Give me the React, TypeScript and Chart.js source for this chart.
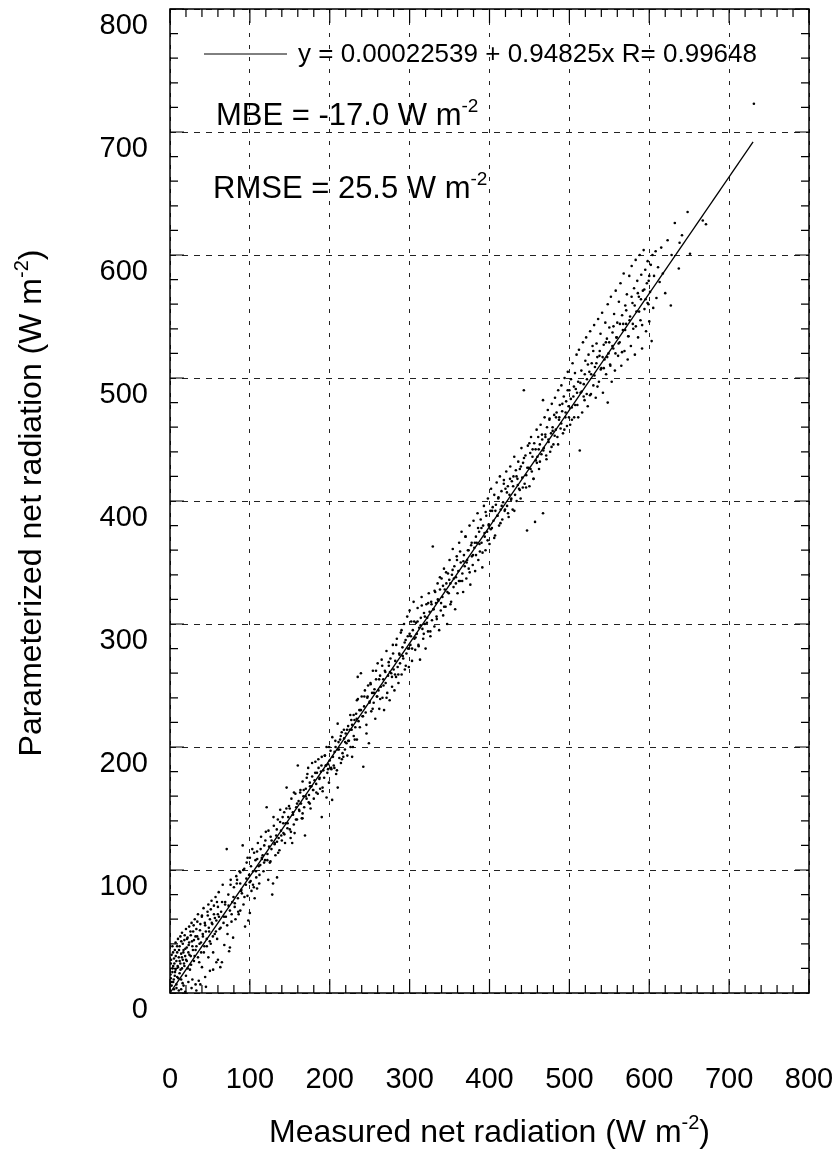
import React, { useEffect, useRef } from "react";
import { Chart, registerables } from "chart.js";

Chart.register(...registerables);

const FONT = "'Liberation Sans', Arial, Helvetica, sans-serif";

const axisMin = 0;
const axisMax = 800;
const majorStep = 100;
const minorStep = 20;

type Part = { t: string; sup?: boolean };
const xTitleParts: Part[] = [{ t: "Measured net radiation (W m" }, { t: "-2", sup: true }, { t: ")" }];
const yTitleParts: Part[] = [{ t: "Parameterized net radiation (W m" }, { t: "-2", sup: true }, { t: ")" }];
const fitLabel = "y = 0.00022539 + 0.94825x R= 0.99648";
const mbeParts: Part[] = [{ t: "MBE = -17.0 W m" }, { t: "-2", sup: true }];
const rmseParts: Part[] = [{ t: "RMSE = 25.5 W m" }, { t: "-2", sup: true }];

// fitted regression line end points (measured, parameterized)
const fitMeasured = [0, 730];
const fitParameterized = [0.0002, 692];

// scatter samples: [measured, parameterized] (W m-2) — outer band
const samples: [number, number][] = [
  [0,2],[1,12],[1,24],[2,6],[2,31],[3,17],[3,38],[4,9],[4,22],[5,3],[5,28],[6,14],[6,35],[7,19],[7,41],[8,7],[8,26],[9,33],[9,13],[10,21],
  [10,44],[11,2],[11,29],[12,16],[12,38],[13,24],[13,46],[14,11],[14,32],[15,49],[15,20],[16,27],[16,40],[17,6],[17,35],[18,43],[18,22],[19,30],[20,52],[20,14],
  [21,37],[21,26],[22,45],[23,9],[23,33],[24,54],[24,41],[25,19],[26,47],[26,30],[27,57],[28,38],[28,11],[29,50],[30,26],[30,43],[31,60],[32,7],[32,35],[33,52],
  [34,46],[35,29],[35,64],[36,10],[37,40],[38,56],[38,7],[39,33],[40,63],[40,21],[41,48],[42,69],[43,38],[44,13],[44,55],[45,5],[46,44],[47,66],[48,29],[48,72],
  [49,50],[50,18],[50,60],[51,40],[52,75],[53,56],[54,19],[54,33],[55,64],[56,48],[57,78],[58,25],[58,59],[59,44],[60,27],[60,70],[14,3],[19,1],[27,4],[33,2],
  [61,82],[62,52],[63,21],[64,66],[65,25],[66,88],[67,57],[68,39],[69,72],[70,62],[71,117],[72,48],[73,80],[74,34],[75,67],[75,37],[76,92],[77,58],[78,74],[79,45],
  [80,86],[81,70],[82,60],[83,95],[84,92],[85,77],[86,64],[87,99],[88,67],[88,98],[89,83],[90,81],[91,120],[92,72],[93,101],[94,54],[95,88],[96,106],[97,79],[98,59],
  [99,96],[100,65],[100,110],[101,91],[102,83],[103,117],[104,99],[105,86],[106,77],[107,108],[108,94],[109,85],[109,115],[110,122],[111,103],[112,96],[113,104],[114,127],[115,110],[116,112],
  [117,99],[118,120],[119,108],[120,131],[121,151],[122,113],[123,92],[124,119],[125,106],[126,127],[127,117],[128,80],[129,89],[130,136],[131,121],[132,112],[133,128],[134,94],[134,123],[135,141],
  [136,126],[137,116],[138,149],[139,132],[140,124],
  [141,143],[142,130],[143,147],[144,122],[145,138],[146,167],[147,134],[148,143],[149,152],[150,133],[151,126],[152,158],[153,122],[154,145],[155,137],[156,130],[157,162],[158,151],[159,141],[160,185],
  [161,156],[162,148],[163,163],[164,154],[165,142],[166,172],[166,146],[167,160],[168,151],[169,128],[170,166],[171,158],[172,178],[173,183],[174,161],[175,171],[175,154],[176,150],[177,168],[178,176],
  [179,165],[180,158],[181,173],[182,188],[183,170],[184,179],[185,162],[186,183],[187,174],[188,166],[189,180],[190,192],[190,143],[191,167],[192,181],[193,175],[194,193],[195,185],[196,200],[196,159],
  [197,179],[198,186],[199,171],[200,189],[201,197],[202,182],[203,157],[204,192],[205,185],[206,196],[207,205],[208,178],[209,181],[210,167],[210,198],[211,204],[212,191],[213,206],[214,187],[215,212],
  [216,195],[217,192],[218,207],[219,198],[220,211],[221,203],[222,193],[223,217],[224,205],[225,214],[226,200],[227,222],[228,218],[228,192],[229,200],[230,209],[231,222],[232,216],[233,227],[234,238],
  [234,206],[235,257],[236,221],[237,230],[238,230],[239,260],[240,241],[241,225],[242,184],[243,233],[244,246],[245,228],[246,211],[247,240],[248,250],[249,203],[250,237],
  [251,252],[252,229],[253,244],[254,262],[255,236],[256,247],[257,223],[258,255],[259,241],[260,268],[261,246],[262,231],[263,258],[264,249],[265,271],[266,240],[267,255],[268,230],[269,262],[270,252],
  [271,278],[272,244],[273,258],[274,266],[275,238],[276,272],[277,260],[278,249],[279,283],[280,263],[281,246],[282,270],[283,257],[284,288],[285,265],[286,252],[287,276],[288,268],[289,293],[290,259],
  [291,281],[292,272],[293,300],[294,263],[295,287],[296,276],[297,306],[298,280],[299,265],[300,292],[300,311],[301,283],[302,302],[303,270],[304,295],[305,318],[306,288],[307,279],[308,301],[309,292],
  [310,313],[311,283],[312,297],[313,271],[314,305],[315,322],[316,296],[317,288],[318,309],[319,300],[320,280],[321,316],[322,305],[323,294],[324,325],[325,310],[326,290],[327,318],[328,303],[329,363],
  [330,312],[331,298],[332,326],[333,317],[334,304],[335,333],[336,319],[337,295],[338,328],[339,311],[340,337],[341,322],[342,307],[343,345],[344,328],[345,314],[346,333],[347,300],[348,341],[349,325],
  [350,352],[351,333],[352,318],[353,340],[354,361],[355,330],[356,347],[357,312],[358,338],[359,355],[360,325],[361,343],[362,366],[363,335],[364,350],[365,375],[366,341],[367,326],[368,356],[369,347],
  [370,371],[371,337],[372,352],[373,360],[374,345],[375,380],[376,332],[377,364],[378,355],[379,348],[380,384],[381,362],[382,343],[383,371],[384,366],[385,390],[386,352],[387,375],[388,359],[389,385],
  [390,366],[391,346],[392,380],[393,396],[394,371],[395,360],[396,388],[397,375],[398,402],[399,380],[400,365],
  [401,392],[402,410],[403,378],[404,395],[405,384],[406,405],[407,372],[408,397],[409,415],[410,388],[411,402],[412,380],[413,420],[414,393],[415,408],[416,385],[417,399],[418,417],[419,392],[420,410],
  [421,424],[422,396],[423,412],[424,387],[425,405],[426,428],[427,401],[428,416],[429,393],[430,420],[431,436],[432,405],[433,425],[434,400],[435,418],[436,432],[437,410],[438,426],[439,402],[440,443],
  [441,419],[442,431],[443,490],[444,414],[445,437],[446,421],[447,376],[448,445],[449,427],[450,412],[451,439],[452,452],[453,424],[454,442],[455,418],[456,447],[457,383],[458,433],[459,458],[460,436],
  [461,452],[462,426],[463,446],[464,462],[465,438],[466,450],[467,482],[467,390],[468,443],[469,468],[470,452],[471,437],[472,460],[473,474],[474,448],[475,466],[476,440],[477,455],[478,479],[479,460],
  [480,446],[481,470],[482,484],[483,458],[484,472],[485,452],[486,490],[487,466],[488,478],[489,459],[490,494],[491,473],[492,455],[493,485],[494,500],[495,468],[496,481],[497,461],[498,505],[499,477],
  [500,490],
  [501,462],[502,499],[503,476],[504,512],[505,485],[506,468],[507,504],[508,491],[509,519],[510,478],[511,497],[512,523],[513,441],[514,488],[515,506],[516,472],[517,529],[518,495],[519,482],[520,514],
  [521,533],[522,499],[523,477],[524,519],[525,505],[526,538],[527,487],[528,512],[529,526],[530,494],[531,543],[532,509],[533,484],[534,528],[535,517],[536,548],[537,497],[538,522],[539,536],[540,508],
  [541,553],[542,488],[543,527],[544,515],[545,545],[546,503],[547,532],[548,480],[548,560],[549,520],[550,541],[551,511],[552,566],[553,497],[554,537],[555,524],[556,552],[557,506],[558,571],[559,533],
  [560,545],[561,518],[562,562],[563,529],[564,577],[565,510],[566,551],[567,539],[568,585],[569,522],[570,559],[571,544],[572,568],[573,515],[574,534],[575,583],[576,550],[577,526],[578,591],[579,561],
  [580,540],[581,573],[582,519],[583,596],[584,554],[585,579],[586,533],[587,566],[588,600],[589,547],[590,584],[591,524],[592,571],[593,604],[594,556],[595,588],[596,538],[597,577],[598,595],[599,560],
  [600,583],[600,546],
  [601,570],[602,592],[603,530],[604,600],[605,557],[606,583],[608,603],[609,565],[611,590],[613,578],[615,606],[617,585],[620,569],[623,612],[627,559],[628,600],[632,626],[637,589],[638,610],[641,616],
  [648,635],[651,601],[667,628],[671,625],[731,723]
];

// dense core of the cloud, close to the fitted line
const coreSamples: [number, number][] = [
  [0.6,15],[1.4,27],[2.2,9],[3.1,20],[3.8,33],[4.7,11],[5.5,24],[6.3,17],[7.2,30],[8.1,4],[8.9,38],[9.6,22],[10.4,12],[11.3,35],[12.1,26],[13.2,19],[14.1,42],[14.9,29],[15.8,8],[16.7,33],
  [17.5,24],[18.4,47],[19.2,36],[20.1,27],[21.3,44],[22.2,20],[23.4,39],[24.3,31],[25.6,50],[26.4,23],[27.5,42],[28.7,35],[29.6,55],[30.8,30],[31.9,46],[33.1,38],[34.2,58],[35.4,44],[36.6,25],[37.5,51],
  [38.8,41],[39.9,62],[41.2,46],[42.4,33],[43.6,57],[44.9,50],[46.1,38],[47.3,63],[48.6,53],[49.8,42],[51.1,68],[52.3,57],[53.7,46],[55.0,71],[56.2,61],[57.5,50],[58.8,74],[59.9,64],
  [61.3,62],[63.4,53],[65.2,74],[67.7,62],[69.1,74],[71.6,55],[73.3,71],[75.8,88],[77.2,64],[79.5,78],[81.1,73],[83.6,89],[85.4,66],[87.9,89],[89.3,84],[91.7,100],[93.2,78],[95.6,93],[97.1,110],[99.8,90],
  [101.4,103],[103.9,88],[105.3,114],[107.6,99],[109.2,109],[111.7,89],[113.5,117],[115.1,109],[117.8,106],[119.4,124],[121.9,108],[123.3,132],[125.8,107],[127.2,124],[129.6,143],[131.1,122],[133.7,133],[135.4,114],[137.9,139],[139.3,128],
  [141.8,138],[143.2,129],[145.7,150],[147.3,138],[149.9,150],[151.4,131],[153.8,147],[155.2,163],[157.7,141],[159.1,154],[161.6,149],[163.3,165],[165.9,142],[167.4,165],[169.8,160],[171.2,175],[173.7,155],[175.3,168],[177.9,187],[179.4,165],
  [181.8,179],[183.2,163],[185.7,190],[187.3,175],[189.6,185],[191.1,164],[193.8,193],[195.4,185],[197.9,182],[199.3,200],[201.7,183],[203.2,208],[205.8,183],[207.3,200],[209.9,219],[211.4,198],[213.8,209],[215.2,190],[217.7,214],[219.3,204],
  [221.6,214],[223.1,205],[225.7,226],[227.4,214],[229.9,226],[231.3,206],[233.8,223],[235.2,239],[237.7,216],[239.1,230],[241.6,225],[243.3,241],[245.9,218],[247.4,241],[249.8,236],
  [251.2,251],[253.7,231],[255.3,244],[257.9,262],[259.4,241],[261.8,255],[263.2,239],[265.7,266],[267.3,250],[269.6,261],[271.1,240],[273.8,269],[275.4,261],[277.9,257],[279.3,276],[281.7,259],[283.2,283],[285.8,259],[287.3,275],[289.9,295],
  [291.4,274],[293.8,285],[295.2,266],[297.7,290],[299.3,280],[301.6,290],[303.1,280],[305.7,302],[307.4,289],[309.9,302],[311.3,282],[313.8,299],[315.2,315],[317.7,292],[319.1,306],[321.6,301],[323.3,317],[325.9,294],[327.4,316],[329.8,312],
  [331.2,327],[333.7,306],[335.3,320],[337.9,338],[339.4,317],[341.8,331],[343.2,314],[345.7,342],[347.3,326],[349.6,336],[351.1,316],[353.8,344],[355.4,337],[357.9,333],[359.3,352],[361.7,335],[363.2,359],[365.8,335],[367.3,351],[369.9,371],
  [371.4,350],[373.8,360],[375.2,342],[377.7,366],[379.3,356],[381.6,366],[383.1,356],[385.7,378],[387.4,365],[389.9,378],[391.3,358],[393.8,374],[395.2,391],[397.7,368],[399.1,381],[401.6,377],[403.3,392],[405.9,370],[407.4,392],[409.8,388],
  [411.2,403],[413.7,382],[415.3,396],[417.9,414],[419.4,393],[421.8,407],[423.2,390],[425.7,418],[427.3,402],[429.6,412],[431.1,392],[433.8,420],[435.4,413],[437.9,409],[439.3,428],[441.7,411],[443.2,435],[445.8,411],[447.3,427],[449.9,447],
  [451.4,426],[453.8,436],[455.2,418],[457.7,442],[459.3,431],[461.6,442],[463.1,432],[465.7,454],[467.4,441],[469.9,454],[471.3,434],[473.8,450],[475.2,467],[477.7,444],[479.1,457],[481.6,453],[483.3,468],[485.9,446],[487.4,468],[489.8,463],
  [491.2,479],[493.7,458],[495.3,472],[497.9,490],[499.4,468],[501.8,483],[503.2,466],[505.7,493],[507.3,478],[509.6,488],[511.1,468],[513.8,496],[515.4,489],[517.9,485],[519.3,503],[521.7,487],[523.2,511],[525.8,486],[527.3,503],[529.9,522],
  [531.4,502],[533.8,512],[535.2,493],[537.7,518],[539.3,507],[541.6,517],[543.1,508],[545.7,529],[547.4,517],[549.9,529],[551.3,510],[553.8,526],[555.2,542],[557.7,520],[559.1,533],[561.6,528],[563.3,544],[565.9,521],[567.4,544],[569.8,539],
  [571.2,555],[573.7,534],[575.3,547],[577.9,566],[579.4,544],[581.8,559],[583.2,542],[585.7,569],[587.3,554],[589.6,564],[591.1,543],[593.8,572],[595.4,564],[597.9,561],[599.3,579]
];

function drawRich(ctx: CanvasRenderingContext2D, parts: Part[], x: number, y: number, size: number, align: "left" | "center") {
  const base = `${size}px ${FONT}`;
  const supFont = `${Math.round(size * 0.62)}px ${FONT}`;
  let total = 0;
  for (const p of parts) {
    ctx.font = p.sup ? supFont : base;
    total += ctx.measureText(p.t).width;
  }
  let cx = align === "center" ? x - total / 2 : x;
  ctx.textAlign = "left";
  ctx.textBaseline = "alphabetic";
  for (const p of parts) {
    ctx.font = p.sup ? supFont : base;
    ctx.fillText(p.t, cx, p.sup ? y - size * 0.42 : y);
    cx += ctx.measureText(p.t).width;
  }
}

const decorPlugin = {
  id: "decor",
  afterDraw(chart: any) {
    const { ctx, chartArea: a, scales } = chart;
    const xs = scales.x;
    const ys = scales.y;
    ctx.save();
    ctx.setLineDash([]);
    ctx.strokeStyle = "#000";
    ctx.lineWidth = 1.5;
    ctx.strokeRect(a.left, a.top, a.right - a.left, a.bottom - a.top);
    ctx.lineWidth = 1.2;
    ctx.beginPath();
    for (let v = axisMin; v <= axisMax; v += minorStep) {
      const len = v % majorStep === 0 ? 14 : 8;
      const px = xs.getPixelForValue(v);
      ctx.moveTo(px, a.bottom); ctx.lineTo(px, a.bottom - len);
      ctx.moveTo(px, a.top); ctx.lineTo(px, a.top + len);
      const py = ys.getPixelForValue(v);
      ctx.moveTo(a.left, py); ctx.lineTo(a.left + len, py);
      ctx.moveTo(a.right, py); ctx.lineTo(a.right - len, py);
    }
    ctx.stroke();

    ctx.fillStyle = "#000";
    ctx.lineWidth = 1;
    ctx.beginPath();
    ctx.moveTo(204, 54);
    ctx.lineTo(287, 54);
    ctx.stroke();
    ctx.font = `26px ${FONT}`;
    ctx.textAlign = "left";
    ctx.textBaseline = "middle";
    ctx.fillText(fitLabel, 298, 55);

    drawRich(ctx, mbeParts, 216, 125, 31, "left");
    drawRich(ctx, rmseParts, 213, 198, 31, "left");

    drawRich(ctx, xTitleParts, (a.left + a.right) / 2, 1142, 32, "center");
    ctx.save();
    ctx.translate(41, (a.top + a.bottom) / 2 + 2);
    ctx.rotate(-Math.PI / 2);
    drawRich(ctx, yTitleParts, 0, 0, 32, "center");
    ctx.restore();

    ctx.restore();
  },
};

const fixScale = (height: number | null, width: number | null) => (s: any) => {
  if (height !== null) s.height = height;
  if (width !== null) s.width = width;
  s.paddingLeft = 0;
  s.paddingRight = 0;
  s.paddingTop = 0;
  s.paddingBottom = 0;
};

export default function App() {
  const ref = useRef<HTMLCanvasElement | null>(null);
  useEffect(() => {
    if (!ref.current) return;
    const pointStyle = { pointRadius: 1.3, pointHoverRadius: 1.3, backgroundColor: "#000", borderWidth: 0 };
    const chart = new Chart(ref.current, {
      type: "scatter",
      data: {
        datasets: [
          { label: "Samples", data: samples.map(([x, y]) => ({ x, y })), ...pointStyle },
          { label: "Core samples", data: coreSamples.map(([x, y]) => ({ x, y })), ...pointStyle },
          {
            label: "Fit",
            data: fitMeasured.map((x, i) => ({ x, y: fitParameterized[i] })),
            showLine: true,
            borderColor: "#000",
            borderWidth: 1.3,
            pointRadius: 0,
            fill: false,
          } as any,
        ],
      },
      options: {
        animation: false,
        responsive: false,
        layout: { autoPadding: false, padding: { top: 9, right: 31, bottom: 0, left: 0 } } as any,
        plugins: { legend: { display: false }, tooltip: { enabled: false } },
        scales: {
          x: {
            type: "linear",
            position: "bottom",
            min: axisMin,
            max: axisMax,
            afterFit: fixScale(166, null),
            ticks: { stepSize: majorStep, padding: 70, color: "#000", font: { family: FONT, size: 29 }, maxRotation: 0, autoSkip: false },
            grid: { color: "#222", lineWidth: 1, drawTicks: false },
            border: { display: false, dash: [4, 8] },
          },
          y: {
            type: "linear",
            min: axisMin,
            max: axisMax,
            afterFit: fixScale(null, 170),
            ticks: { stepSize: majorStep, padding: 22, labelOffset: 17, color: "#000", font: { family: FONT, size: 29 }, autoSkip: false },
            grid: { color: "#222", lineWidth: 1, drawTicks: false },
            border: { display: false, dash: [6, 6] },
          },
        },
      },
      plugins: [decorPlugin],
    });
    return () => chart.destroy();
  }, []);
  return (
    <div style={{ position: "absolute", left: 0, top: 0, width: 840, height: 1159, background: "#fff" }}>
      <canvas ref={ref} width={840} height={1159} style={{ display: "block", width: 840, height: 1159 }} />
    </div>
  );
}
